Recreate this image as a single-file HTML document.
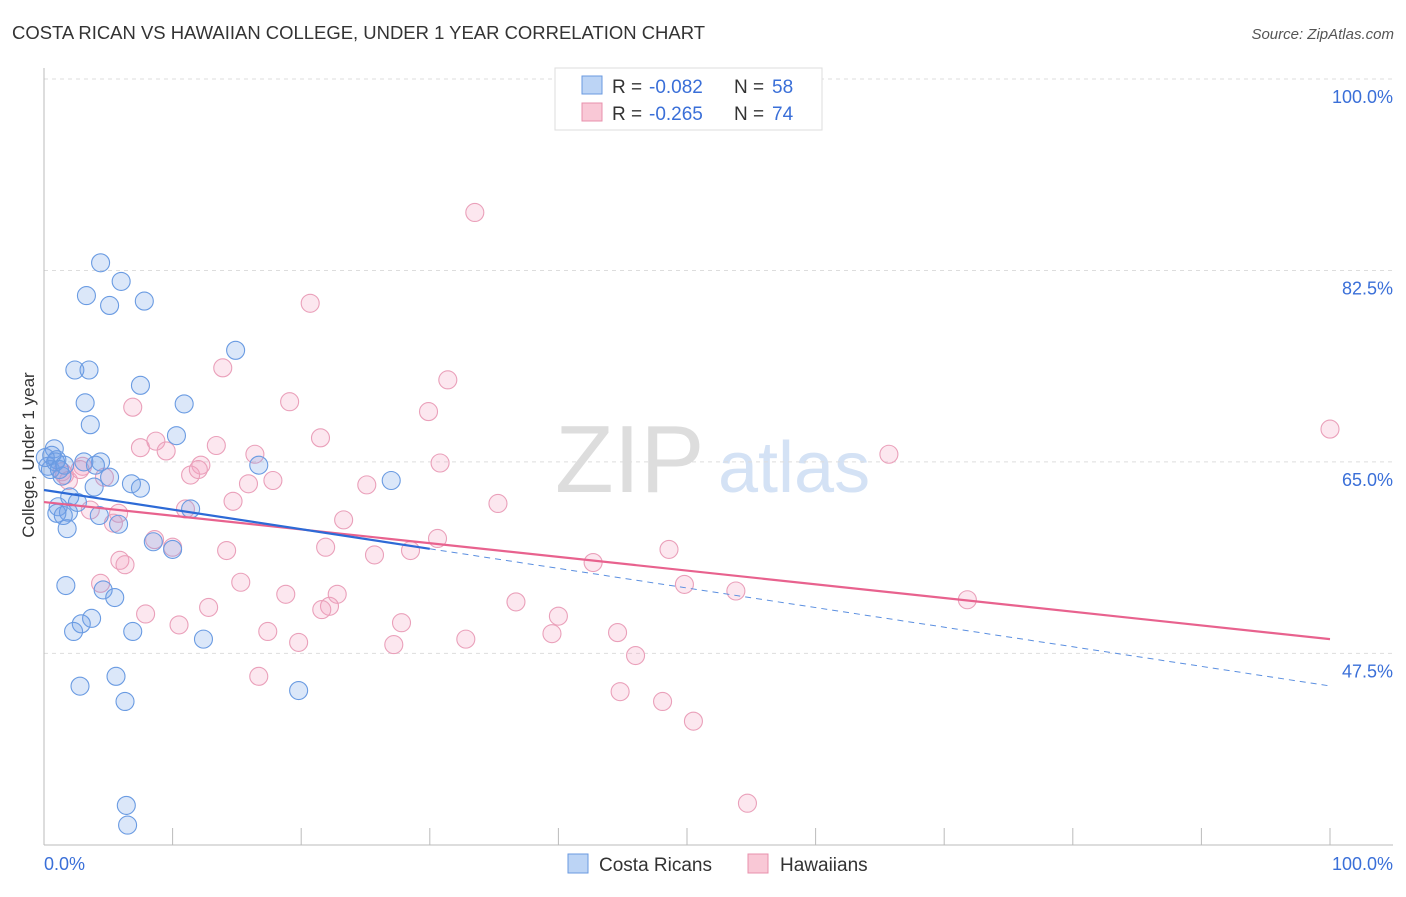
<!DOCTYPE html>
<html><head><meta charset="utf-8"><style>
body{margin:0;background:#fff;font-family:"Liberation Sans",sans-serif;}
svg text{font-family:"Liberation Sans",sans-serif;}
</style></head><body>
<svg width="1406" height="892" viewBox="0 0 1406 892" xmlns="http://www.w3.org/2000/svg">
<text x="12" y="39" font-size="18" fill="#333" textLength="693" lengthAdjust="spacingAndGlyphs">COSTA RICAN VS HAWAIIAN COLLEGE, UNDER 1 YEAR CORRELATION CHART</text>
<text x="1394" y="39" font-size="15" fill="#555" font-style="italic" text-anchor="end">Source: ZipAtlas.com</text>
<g>
<text x="555" y="492" font-size="96" fill="#ddd" font-family="Liberation Serif">ZIP</text>
<text x="718" y="492" font-size="72" fill="#d4e2f5">atlas</text>
</g>
<g id="grid"></g>
<g id="axes"></g>
<g id="pts"></g>
<g id="trend"></g>
<text x="34" y="455" font-size="17" fill="#333" transform="rotate(-90 34 455)" text-anchor="middle">College, Under 1 year</text>
<g>
<rect x="555" y="68" width="267" height="62" fill="#fff" stroke="#ddd"/>
<rect x="582" y="76" width="20" height="18" fill="#bcd4f5" stroke="#6a9ae0"/>
<rect x="582" y="103" width="20" height="18" fill="#f9c8d6" stroke="#e890ac"/>
<g>
<text x="612" y="93" font-size="19" fill="#333">R =</text>
<text x="649" y="93" font-size="19" fill="#3a6fd8">-0.082</text>
<text x="734" y="93" font-size="19" fill="#333">N =</text>
<text x="772" y="93" font-size="19" fill="#3a6fd8">58</text>
</g>
<g>
<text x="612" y="120" font-size="19" fill="#333">R =</text>
<text x="649" y="120" font-size="19" fill="#3a6fd8">-0.265</text>
<text x="734" y="120" font-size="19" fill="#333">N =</text>
<text x="772" y="120" font-size="19" fill="#3a6fd8">74</text>
</g>
</g>
<g>
<rect x="568" y="854" width="20" height="19" fill="#bcd4f5" stroke="#6a9ae0"/>
<text x="599" y="871" font-size="19" fill="#333">Costa Ricans</text>
<rect x="748" y="854" width="20" height="19" fill="#f9c8d6" stroke="#e890ac"/>
<text x="780" y="871" font-size="19" fill="#333">Hawaiians</text>
</g>
</svg>
<script>
const yTicks=[100,82.5,65,47.5];
const yTickLabels=["100.0%","82.5%","65.0%","47.5%"];
const xTickLabels=["0.0%","100.0%"];
const blueX=[4.4,6.0,3.3,5.1,7.8,14.9,2.4,3.5,7.5,3.2,10.9,3.6,10.3,0.8,0.6,1.0,3.1,4.4,4.0,16.7,5.1,1.4,27.0,3.9,6.8,7.5,2.0,2.6,1.1,11.4,4.3,1.9,1.0,1.5,5.8,1.8,8.5,10.0,1.7,4.6,5.5,3.7,2.9,2.3,6.9,12.4,2.8,5.6,19.8,6.3,6.4,6.5,0.3,0.5,0.9,1.2,1.6,0.1];
const blueY=[83.2,81.5,80.2,79.3,79.7,75.2,73.4,73.4,72.0,70.4,70.3,68.4,67.4,66.2,65.6,65.2,65.0,65.0,64.7,64.7,63.6,63.7,63.3,62.7,63.0,62.6,61.8,61.3,60.9,60.7,60.1,60.4,60.3,60.1,59.3,58.9,57.7,57.0,53.7,53.3,52.6,50.7,50.2,49.5,49.5,48.8,44.5,45.4,44.1,43.1,33.6,31.8,64.6,64.3,65.0,64.3,64.7,65.4];
const pinkX=[33.5,20.7,13.9,31.4,6.9,19.1,29.9,8.7,21.5,13.4,7.5,9.5,16.4,65.7,30.8,3.0,12.2,11.4,12.0,17.8,15.9,25.1,1.6,4.7,1.4,14.7,35.3,11.0,3.6,5.8,23.3,5.4,30.6,8.6,10.0,21.9,28.5,25.7,14.2,48.6,5.9,6.3,42.7,15.3,4.4,49.8,53.8,71.8,18.8,22.8,36.7,7.9,12.8,22.2,21.6,40.0,27.8,10.5,17.4,44.6,39.5,32.8,19.8,27.2,46.0,16.7,44.8,48.1,50.5,54.7,100,1.9,2.8];
const pinkY=[87.8,79.5,73.6,72.5,70.0,70.5,69.6,66.9,67.2,66.5,66.3,66.0,65.7,65.7,64.9,64.6,64.7,63.8,64.3,63.3,63.0,62.9,63.8,63.6,64.1,61.4,61.2,60.7,60.6,60.3,59.7,59.4,58.0,57.9,57.2,57.2,56.9,56.5,56.9,57.0,56.0,55.6,55.8,54.0,53.9,53.8,53.2,52.4,52.9,52.9,52.2,51.1,51.7,51.8,51.5,50.9,50.3,50.1,49.5,49.4,49.3,48.8,48.5,48.3,47.3,45.4,44.0,43.1,41.3,33.8,68.0,63.3,64.3];
const blueTrend=[62.43,44.52];
const pinkTrend=[61.33,48.8];
const blueSolidEnd=30;
const NS="http://www.w3.org/2000/svg";
const xs=v=>44+v*12.86, ys=v=>79+(100-v)*10.94;
function mk(t,a,p){const e=document.createElementNS(NS,t);for(const k in a)e.setAttribute(k,a[k]);p.appendChild(e);return e;}
const grid=document.getElementById('grid'),axes=document.getElementById('axes'),pts=document.getElementById('pts'),trend=document.getElementById('trend');
yTicks.forEach((t,i)=>{
 const l=mk('line',{x1:44,x2:1393,y1:ys(t),y2:ys(t),stroke:'#ddd','stroke-dasharray':'4,4'},grid);
 
 
 const tx=mk('text',{x:1393,y:ys(t)+24,'font-size':18,fill:'#3a6fd8','text-anchor':'end'},axes);
 tx.textContent=yTickLabels[i];
 
 
});
const la=mk('line',{x1:44,x2:44,y1:68,y2:845,stroke:'#bbb'},axes);


const lb=mk('line',{x1:44,x2:1393,y1:845,y2:845,stroke:'#bbb'},axes);


for(let i=1;i<=10;i++){
 const t=mk('line',{x1:xs(i*10),x2:xs(i*10),y1:828,y2:845,stroke:'#bbb'},axes);
 
 
}
[[0,'start',44],[100,'end',1393]].forEach((d,i)=>{
 const tx=mk('text',{x:d[2],y:870,'font-size':18,fill:'#3a6fd8','text-anchor':d[1]},axes);
 tx.textContent=xTickLabels[i];
 
 
});
function dots(X,Y,fill,stroke,name){X.forEach((x,i)=>{
 const c=mk('circle',{cx:xs(x),cy:ys(Y[i]),r:9,fill:fill,stroke:stroke,'stroke-width':1.1},pts);
 
 
});}
dots(pinkX,pinkY,'rgba(243,160,190,0.25)','#eaa0ba','hawaiian-point');
dots(blueX,blueY,'rgba(110,160,230,0.25)','#6a9be2','costa-rican-point');
const bAt=x=>blueTrend[0]+(blueTrend[1]-blueTrend[0])*x/100;
const pAt=x=>pinkTrend[0]+(pinkTrend[1]-pinkTrend[0])*x/100;
const t1=mk('line',{x1:xs(0),y1:ys(pAt(0)),x2:xs(100),y2:ys(pAt(100)),stroke:'#e8628e','stroke-width':2.2},trend);


const t2=mk('line',{x1:xs(0),y1:ys(bAt(0)),x2:xs(blueSolidEnd),y2:ys(bAt(blueSolidEnd)),stroke:'#2d6ad6','stroke-width':2.2},trend);


const t3=mk('line',{x1:xs(blueSolidEnd),y1:ys(bAt(blueSolidEnd)),x2:xs(100),y2:ys(bAt(100)),stroke:'#5b8fe0','stroke-width':1,'stroke-dasharray':'6,5'},trend);


</script>
</body></html>
